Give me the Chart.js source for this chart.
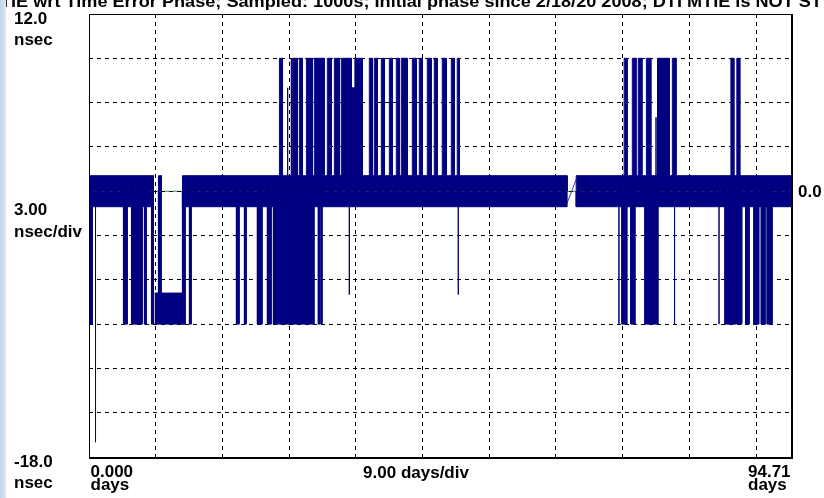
<!DOCTYPE html>
<html>
<head>
<meta charset="utf-8">
<title>TIE wrt Time Error Phase</title>
<script src="https://cdn.jsdelivr.net/npm/chart.js@4.4.0/dist/chart.umd.min.js"></script>
<style>
  html, body { margin: 0; padding: 0; background: #fff; }
  #wrap { position: relative; width: 824px; height: 498px; overflow: hidden; }
  #chart { position: absolute; left: 0; top: 0; }
  #strip { position: absolute; left: 0; top: 0; width: 6px; height: 498px;
           background: linear-gradient(to right, #c3d3ec, #dce6f4); }
</style>
</head>
<body>
<div id="wrap">
  <canvas id="chart" width="824" height="498"></canvas>
  <div id="strip"></div>
</div>
<script>
// axis ranges (days, nsec)
const xMin = 0, xMax = 94.71;
const yMin = -18, yMax = 12;
const xGridDays = [9, 18, 27, 36, 45, 54, 63, 72, 81, 90];
const yGridNsec = [-15, -12, -9, -6, -3, 0, 3, 6, 9];

// text
const titleText = 'TIE wrt Time Error Phase; Sampled: 1000s; Initial phase since 2/18/20 2008; DTI MTIE is NOT ST';
const yTopLabel = ['12.0', 'nsec'];
const yMidLabel = ['3.00', 'nsec/div'];
const yBottomLabel = ['-18.0', 'nsec'];
const xLeftLabel = ['0.000', 'days'];
const xMidLabel = '9.00 days/div';
const xRightLabel = ['94.71', 'days'];
const rightLabel = '0.0';

// dense noise band around zero: start day, end day, upper and lower edge
const bandStart = [0, 12.61, 65.73];
const bandEnd = [8.70, 64.51, 94.71];
const bandHigh = [1.05, 1.05, 1.05];
const bandLow = [-1.05, -1.05, -1.05];

// positive excursions: start day, end day, peak nsec
const upStart = [9.37, 25.69, 26.80, 27.30, 27.44, 28.38, 29.33, 30.40, 32.15, 33.10,
  34.04, 35.40, 35.87, 37.82, 38.49, 39.44, 40.52, 41.46, 42.13, 43.62,
  44.56, 45.64, 46.58, 47.66, 48.88, 49.68,
  72.20, 73.30, 74.10, 75.20, 76.50, 76.70, 76.90, 78.70, 86.60, 87.40];
const upEnd = [9.77, 26.11, 26.80, 27.30, 28.11, 28.79, 30.13, 31.75, 32.69, 33.80,
  35.40, 35.87, 36.88, 38.22, 38.90, 39.84, 40.92, 41.86, 42.94, 44.16,
  44.97, 46.18, 46.98, 48.20, 49.28, 49.95,
  72.60, 73.80, 74.60, 75.80, 76.50, 76.80, 78.30, 79.20, 87.00, 87.80];
const upPeak = [1.05, 9, 7, 9, 9, 9, 9, 9, 9, 9,
  9, 7, 9, 9, 9, 9, 9, 9, 9, 9,
  9, 9, 9, 9, 9, 9,
  9, 9, 9, 9, 5, 9, 9, 9, 9, 9];

// negative excursions: start day, end day, trough nsec
const downStart = [0.20, 0.88, 4.65, 5.73, 7.48, 8.43, 9.37, 12.61, 13.55, 19.89,
  20.97, 22.72, 24.07, 24.88, 30.94, 31.35, 35.12, 49.82,
  71.50, 71.90, 73.10, 75.00, 75.80, 79.00, 85.00, 85.80, 87.40, 88.60,
  89.70, 90.70, 91.50];
const downEnd = [0.47, 0.88, 5.19, 7.21, 7.75, 8.70, 9.77, 13.01, 13.82, 20.29,
  21.24, 23.39, 24.61, 30.40, 31.21, 31.48, 35.12, 49.82,
  71.50, 72.60, 73.70, 75.70, 76.80, 79.00, 85.00, 87.30, 88.10, 89.10,
  90.40, 91.30, 92.20];
const downTrough = [-9, -17, -9, -9, -9, -9, -7, -9, -9, -9,
  -9, -9, -9, -9, -9, -9, -7, -7,
  -9, -9, -9, -9, -9, -9, -9, -9, -9, -9,
  -9, -9, -9];

// offset step near day 9-13
const boxDays = [8.83, 12.88];
const boxTop = [-6.9, -6.9];
const boxBottom = [-9, -9];

// phase jump across the gap near day 65
const linkDays = [64.51, 65.73];
const linkNsec = [-0.8, 0.8];

// reference trace at zero
const zeroDays = [0, 94.71];
const zeroNsec = [0, 0];

const NAVY = '#000080';

// rectangles from zero out to each level, separated by gaps
function blocks(starts, ends, levels) {
  const pts = [];
  starts.forEach((s, i) => {
    pts.push({ x: s, y: 0 }, { x: s, y: levels[i] }, { x: ends[i], y: levels[i] }, { x: ends[i], y: 0 }, { x: ends[i], y: null });
  });
  return pts;
}
const pairs = (xs, ys) => xs.map((v, i) => ({ x: v, y: ys[i] }));

function blockSet(data) {
  return {
    data: data,
    borderColor: NAVY,
    backgroundColor: NAVY,
    borderWidth: 1,
    fill: 'origin',
    spanGaps: false,
    order: 1
  };
}

const axisText = {
  id: 'axisText',
  afterDraw(chart) {
    const { ctx, chartArea: a, scales: { x, y } } = chart;
    ctx.save();
    ctx.fillStyle = '#000';
    ctx.font = 'bold 17px "Liberation Sans", Arial, sans-serif';
    ctx.textAlign = 'left';
    ctx.textBaseline = 'alphabetic';

    // title runs off the top edge, stretched to the full width
    const tw = ctx.measureText(titleText).width;
    ctx.save();
    ctx.scale(822 / tw, 1);
    ctx.fillText(titleText, 0, 7);
    ctx.restore();

    const lx = 14;
    ctx.fillText(yTopLabel[0], lx, y.getPixelForValue(yMax) + 10);
    ctx.fillText(yTopLabel[1], lx, y.getPixelForValue(yMax) + 30.5);
    ctx.fillText(yMidLabel[0], lx, y.getPixelForValue(0) + 23.5);
    ctx.fillText(yMidLabel[1], lx, y.getPixelForValue(0) + 45.5);
    ctx.fillText(yBottomLabel[0], lx, y.getPixelForValue(yMin) + 10);
    ctx.fillText(yBottomLabel[1], lx, y.getPixelForValue(yMin) + 31);

    ctx.fillText(xLeftLabel[0], x.getPixelForValue(xMin) + 1.5, a.bottom + 20);
    ctx.fillText(xLeftLabel[1], x.getPixelForValue(xMin) + 1.5, a.bottom + 33);
    ctx.fillText(xRightLabel[0], x.getPixelForValue(xMax) - 43, a.bottom + 20);
    ctx.fillText(xRightLabel[1], x.getPixelForValue(xMax) - 43, a.bottom + 33);
    ctx.textAlign = 'center';
    ctx.fillText(xMidLabel, (a.left + a.right) / 2 - 24, a.bottom + 21);

    ctx.textAlign = 'left';
    ctx.textBaseline = 'middle';
    ctx.fillText(rightLabel, a.right + 7, y.getPixelForValue(0) + 1);

    // plot frame
    ctx.strokeStyle = '#000';
    ctx.lineWidth = 1;
    ctx.strokeRect(Math.round(a.left) + 0.5, Math.round(a.top) + 0.5,
      Math.round(a.right - a.left), Math.round(a.bottom - a.top));
    ctx.lineWidth = 2;
    ctx.beginPath();
    ctx.moveTo(Math.round(a.left), Math.round(a.bottom) + 1);
    ctx.lineTo(Math.round(a.right) + 1, Math.round(a.bottom) + 1);
    ctx.lineTo(Math.round(a.right) + 1, Math.round(a.top));
    ctx.stroke();
    ctx.restore();
  }
};

const gridAxis = (min, max, ticks) => ({
  type: 'linear',
  min: min,
  max: max,
  afterBuildTicks: s => { s.ticks = ticks.map(v => ({ value: v })); },
  ticks: { display: false },
  grid: { color: '#000', lineWidth: 1, drawTicks: false },
  border: { display: false, dash: [4, 4] }
});

new Chart(document.getElementById('chart'), {
  type: 'line',
  data: {
    datasets: [
      blockSet(blocks(bandStart, bandEnd, bandHigh)),
      blockSet(blocks(bandStart, bandEnd, bandLow)),
      blockSet(blocks(upStart, upEnd, upPeak)),
      blockSet(blocks(downStart, downEnd, downTrough)),
      { data: pairs(boxDays, boxTop), borderColor: NAVY, backgroundColor: NAVY, borderWidth: 1, fill: '+1', order: 1 },
      { data: pairs(boxDays, boxBottom), borderColor: NAVY, borderWidth: 1, fill: false, order: 1 },
      { data: pairs(linkDays, linkNsec), borderColor: '#3040c0', borderWidth: 1, fill: false, order: 1 },
      { data: pairs(zeroDays, zeroNsec), borderColor: '#2f9a3a', borderWidth: 1, borderDash: [4, 4], borderDashOffset: 4, fill: false, order: 2 }
    ]
  },
  options: {
    responsive: false,
    animation: false,
    devicePixelRatio: 1,
    layout: { padding: { left: 89, top: 14, right: 33, bottom: 41 } },
    elements: { point: { radius: 0 }, line: { tension: 0 } },
    plugins: { legend: { display: false }, tooltip: { enabled: false } },
    scales: {
      x: gridAxis(xMin, xMax, xGridDays),
      y: gridAxis(yMin, yMax, yGridNsec)
    }
  },
  plugins: [axisText]
});
</script>
</body>
</html>
